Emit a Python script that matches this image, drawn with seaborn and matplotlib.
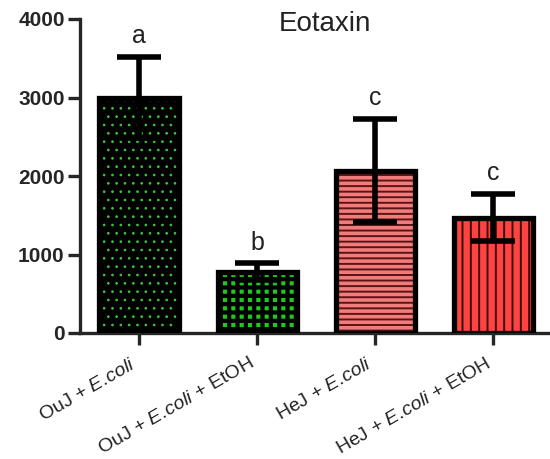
import matplotlib
matplotlib.use("Agg")
import matplotlib.pyplot as plt
import matplotlib.transforms as mtransforms
from matplotlib.patches import Rectangle
import seaborn as sns
import pandas as pd

# Eotaxin levels per treatment group (mean and SEM)
groups = ["OuJ + E.coli", "OuJ + E.coli + EtOH", "HeJ + E.coli", "HeJ + E.coli + EtOH"]
tick_labels = [r"OuJ + $\it{E.\!coli}$", r"OuJ + $\it{E.\!coli}$ + EtOH",
               r"HeJ + $\it{E.\!coli}$", r"HeJ + $\it{E.\!coli}$ + EtOH"]
means = [3000, 780, 2070, 1470]
sems = [520, 110, 660, 300]
letters = ["a", "b", "c", "c"]
yticks = [0, 1000, 2000, 3000, 4000]

face_colors = ["#000000", "#1FC81F", "#F27C7C", "#FF4242"]
hatch_colors = ["#3CC83C", "#000000", "#5A1414", "#3A0808"]
hatches = ["..", "++", "---", "||"]
hatch_widths = [0.7, 3.0, 1.4, 1.4]

sns.set_style("ticks")
plt.rcParams["font.family"] = ["Liberation Sans", "DejaVu Sans"]
plt.rcParams["mathtext.fontset"] = "custom"
plt.rcParams["mathtext.rm"] = "Liberation Sans"
plt.rcParams["mathtext.it"] = "Liberation Sans:italic"

df = pd.DataFrame({"group": groups, "value": means})

fig = plt.figure(figsize=(5.5, 4.59), dpi=100)
ax = fig.add_axes([80 / 550, 1 - 333 / 459, 1 - 80 / 550, (333 - 19) / 459])

sns.barplot(data=df, x="group", y="value", order=groups, errorbar=None,
            width=0.67, ax=ax, zorder=2)

for i, patch in enumerate(ax.patches):
    patch.set_facecolor(face_colors[i])
    patch.set_edgecolor(hatch_colors[i])
    patch.set_hatch(hatches[i])
    patch.set_linewidth(0)
    plt.rcParams["hatch.linewidth"] = hatch_widths[i]
    if hasattr(patch, "set_hatch_linewidth"):
        patch.set_hatch_linewidth(hatch_widths[i])
    # black outline drawn on top of the hatched fill
    outline = Rectangle(patch.get_xy(), patch.get_width(), patch.get_height(),
                        fill=False, edgecolor="black", linewidth=3.8, zorder=3)
    ax.add_patch(outline)

ax.errorbar(range(len(means)), means, yerr=sems, fmt="none", ecolor="black",
            elinewidth=4, capsize=16, capthick=4, zorder=4)

for i, (m, s, letter) in enumerate(zip(means, sems, letters)):
    ax.text(i, m + s + 110, letter, ha="center", va="bottom", fontsize=18,
            color="#222222")

ax.set_xlim(-0.5, 3.48)
ax.set_ylim(0, 4000)
ax.set_yticks(yticks)
ax.set_yticklabels([str(v) for v in yticks], fontsize=15, fontweight="bold")
ax.set_xticks(range(len(groups)))
ax.set_xticklabels([])

# rotated category labels, ending just left of and below each tick
label_tf = ax.get_xaxis_transform() + mtransforms.ScaledTranslation(
    -6 / 72, -16 / 72, fig.dpi_scale_trans)
for i, lbl in enumerate(tick_labels):
    ax.text(i, 0, lbl, transform=label_tf, rotation=30, ha="right", va="top",
            rotation_mode="anchor", fontsize=14, color="#222222")

ax.set_xlabel("")
ax.set_ylabel("")
fig.text(325 / 550, 1 - 11 / 459, "Eotaxin", ha="center", va="top", fontsize=20,
         color="#222222")

for side in ["top", "right"]:
    ax.spines[side].set_visible(False)
for side in ["left", "bottom"]:
    ax.spines[side].set_linewidth(2.4)
ax.tick_params(axis="y", width=2.4, length=9, pad=2)
ax.tick_params(axis="x", width=2.4, length=8.5, pad=3)

fig.savefig("out.png", dpi=100)
